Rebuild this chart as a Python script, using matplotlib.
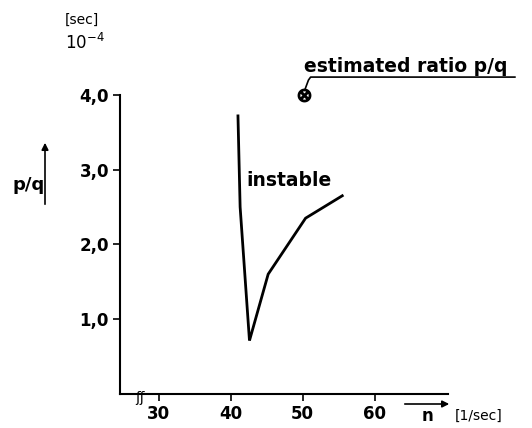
import matplotlib.pyplot as plt
from matplotlib.patches import FancyArrowPatch

n_values = [41.0, 41.3, 42.6, 45.2, 50.4, 55.5]
pq_values = [3.72, 2.5, 0.71, 1.6, 2.35, 2.65]

# geschätztes Verhältnis
est_n = 50.2
est_pq = 4.0

x_ticks = [30, 40, 50, 60]
y_ticks = [1.0, 2.0, 3.0, 4.0]
y_ticklabels = ["1,0", "2,0", "3,0", "4,0"]

W, H = 532, 428
fig = plt.figure(figsize=(W / 100, H / 100), dpi=100)
ax = fig.add_axes([120 / W, 1 - 393.6 / H, (448 - 120) / W, (393.6 - 95) / H])

ax.plot(n_values, pq_values, color="black", lw=2, solid_joinstyle="miter")
ax.plot([est_n], [est_pq], marker="$\\otimes$", color="black", markersize=9, clip_on=False)
# Hinweislinie zum Text
ax.plot([est_n + 0.1, est_n + 0.6, est_n + 0.9, 79.5], [4.07, 4.2, 4.24, 4.24],
        color="black", lw=1.2, clip_on=False)

ax.set_xlim(24.6, 70.2)
ax.set_ylim(0, 4.0)
ax.set_xticks(x_ticks)
ax.set_xticklabels([str(t) for t in x_ticks], fontsize=12, fontweight="bold")
ax.set_yticks(y_ticks)
ax.set_yticklabels(y_ticklabels, fontsize=12, fontweight="bold")
ax.tick_params(direction="out", length=5, width=1.2, color="black", pad=3)
ax.tick_params(axis="x", pad=3)
for s in ["top", "right"]:
    ax.spines[s].set_visible(False)
for s in ["left", "bottom"]:
    ax.spines[s].set_linewidth(1.5)

# Achsenbruch
ax.text(27.4, -0.06, "ʃʃ", fontsize=10, ha="center", va="center", clip_on=False)

ax.text(42.2, 2.85, "instable", fontsize=13.5, fontweight="bold", va="center")

def ftext(x, y, s, **kw):
    fig.text(x / W, 1 - y / H, s, **kw)

ftext(304, 66, "estimated ratio p/q", fontsize=13.5, fontweight="bold", va="center")
ftext(65, 20, "[sec]", fontsize=10, va="center")
ftext(65, 43, "10$^{-4}$", fontsize=12, va="center")
ftext(12, 185, "p/q", fontsize=13, fontweight="bold", va="center")
ftext(422, 416, "n", fontsize=12, fontweight="bold", va="center")
ftext(455, 416, "[1/sec]", fontsize=10, va="center")

# Pfeile
fig.patches.append(FancyArrowPatch(
    (45 / W, 1 - 207 / H), (45 / W, 1 - 140 / H), transform=fig.transFigure,
    arrowstyle="-|>", mutation_scale=10, color="black", lw=1.2))
fig.patches.append(FancyArrowPatch(
    (402 / W, 1 - 404 / H), (452 / W, 1 - 404 / H), transform=fig.transFigure,
    arrowstyle="-|>", mutation_scale=10, color="black", lw=1.2))

fig.savefig("out.png", dpi=100)
